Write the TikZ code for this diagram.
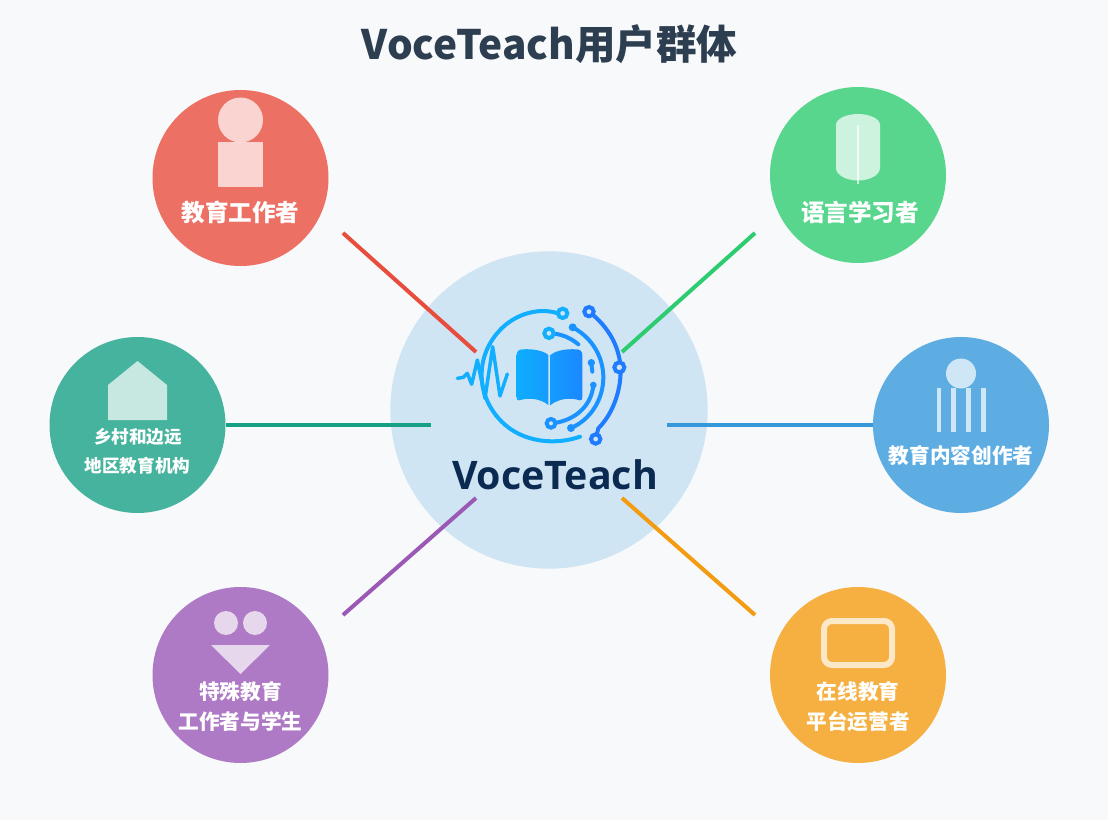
\documentclass[tikz,border=0pt]{standalone}
\usepackage{fontspec}
\setmainfont{Noto Sans CJK SC}
\newfontfamily\logofont{Open Sans}
\usetikzlibrary{calc}
\definecolor{bgc}{HTML}{F8F9FA}
\definecolor{hubc}{HTML}{D0E5F4}
\definecolor{titlec}{HTML}{2C3E50}
\definecolor{logotext}{HTML}{0B2A52}
\definecolor{lg1}{HTML}{12AEFF}
\definecolor{lg2}{HTML}{1A92FF}
\definecolor{lg3}{HTML}{1F7BFF}
\definecolor{pg1}{HTML}{0DAEFF}
\definecolor{pg2}{HTML}{159CFF}
\definecolor{pg3}{HTML}{1A88FF}
\definecolor{dred}{HTML}{EC7063}
\definecolor{dgreen}{HTML}{58D68D}
\definecolor{dteal}{HTML}{45B39D}
\definecolor{dblue}{HTML}{5DADE2}
\definecolor{dpurple}{HTML}{AF7AC5}
\definecolor{dorange}{HTML}{F5B041}
\definecolor{lred}{HTML}{E74C3C}
\definecolor{lgreen}{HTML}{2ECC71}
\definecolor{lteal}{HTML}{16A085}
\definecolor{lblue}{HTML}{3498DB}
\definecolor{lpurple}{HTML}{9B59B6}
\definecolor{lorange}{HTML}{F39C12}
\tikzset{
 x=0.75pt,y=-0.75pt,
 disc/.style={circle,inner sep=0pt,minimum size=132pt,fill=#1},
 link/.style={line width=3pt,draw=#1},
 icon/.style={fill=white,fill opacity=.7,draw=none},
 lab/.style={text=white,font=\bfseries,align=center,inner sep=0pt},
 lgA/.style={draw=lg1,line width=3pt,line cap=round,fill=none},
 lgB/.style={draw=lg2,line width=3pt,line cap=round,fill=none},
 lgC/.style={draw=lg3,line width=3pt,line cap=round,fill=none},
 ring/.style={line width=3pt,fill=hubc},
 pageL/.style={draw=none,left color=pg1,right color=pg2},
 pageR/.style={draw=none,left color=pg2,right color=pg3},
}
\begin{document}
\begin{tikzpicture}
\useasboundingbox (0,0) rectangle (1108,820);
\fill[bgc] (0,0) rectangle (1108,820);
% hub
\node[circle,inner sep=0pt,minimum size=238pt,fill=hubc] (hub) at (549,410) {};
% discs
\node[disc=dred] (red) at (240.5,178) {};
\node[disc=dgreen] (green) at (858,175) {};
\node[disc=dteal] (teal) at (137.5,425) {};
\node[disc=dblue] (blue) at (961,425) {};
\node[disc=dpurple] (purple) at (240.5,675) {};
\node[disc=dorange] (orange) at (858,675) {};
% free ends
\coordinate (r1) at (343,233); \coordinate (r2) at (476,352);
\coordinate (g1) at (755,233); \coordinate (g2) at (622,352);
\coordinate (t1) at (226,425); \coordinate (t2) at (431,425);
\coordinate (b1) at (873,425); \coordinate (b2) at (667,425);
\coordinate (p1) at (343,615); \coordinate (p2) at (476,498);
\coordinate (o1) at (755,615); \coordinate (o2) at (622,498);
\draw[link=lred] (r1) -- (r2);
\draw[link=lgreen] (g1) -- (g2);
\draw[link=lteal] (t1) -- (t2);
\draw[link=lblue] (b1) -- (b2);
\draw[link=lpurple] (p1) -- (p2);
\draw[link=lorange] (o1) -- (o2);
% title
\node[inner sep=0pt,text=titlec,font=\fontsize{30.4pt}{36pt}\bfseries] (title) at (549.5,44) {VoceTeach用户群体};
% icons
\path[icon] (240.5,120) circle[radius=22.5];
\path[icon] (218,142) rectangle (263,187);
\path[icon] (836,125) arc[start angle=180,end angle=360,x radius=22,y radius=11] -- (880,168) arc[start angle=0,end angle=180,x radius=22,y radius=12.5] -- cycle;
\fill[white,opacity=.7] (857.3,125) rectangle (859.3,184);
\path[icon] (137.5,361) -- (167,385) -- (167,420) -- (108,420) -- (108,385) -- cycle;
\path[icon] (961,373.5) circle[radius=15];
\path[icon] (936.5,388) rectangle (941,432);
\path[icon] (951,388) rectangle (955.5,432);
\path[icon] (966,388) rectangle (970.5,432);
\path[icon] (981,388) rectangle (985.5,432);
\path[icon] (226,623) circle[radius=12];
\path[icon] (255,623) circle[radius=12];
\path[icon] (211,645) -- (270,645) -- (240.5,674) -- cycle;
\draw[white,opacity=.7,line width=4.5pt,rounded corners=6pt] (824,621) rectangle (892,665);
% labels
\node[lab,font=\fontsize{17.7pt}{21pt}\bfseries] (lr) at (240.5,212) {教育工作者};
\node[lab,font=\fontsize{17.7pt}{21pt}\bfseries] (lg) at (860,212) {语言学习者};
\node[lab,font=\fontsize{13.2pt}{16pt}\bfseries] (lt1) at (138,437) {乡村和边远};
\node[lab,font=\fontsize{13.2pt}{16pt}\bfseries] (lt2) at (137.5,466) {地区教育机构};
\node[lab,font=\fontsize{15.5pt}{19pt}\bfseries] (lb) at (961,456) {教育内容创作者};
\node[lab,font=\fontsize{15.5pt}{19pt}\bfseries] (lp1) at (240.5,692) {特殊教育};
\node[lab,font=\fontsize{15.5pt}{19pt}\bfseries] (lp2) at (240.5,722) {工作者与学生};
\node[lab,font=\fontsize{15.5pt}{19pt}\bfseries] (lo1) at (858,692) {在线教育};
\node[lab,font=\fontsize{15.5pt}{19pt}\bfseries] (lo2) at (858,722) {平台运营者};
% logo (drawn in the zoomed frame)
\begin{scope}[shift={(430,290)},x=0.25pt,y=-0.25pt]
\draw[lgA] (383,70) .. controls (340,55) and (270,62) .. (215,115) .. controls (130,200) and (140,320) .. (215,395) .. controls (280,460) and (380,465) .. (450,440);
\draw[lgB] (428,112) .. controls (490,145) and (520,205) .. (520,262) .. controls (520,330) and (480,390) .. (423,414);
\draw[lgC] (477,65) .. controls (535,110) and (570,170) .. (572,240) .. controls (572,310) and (545,375) .. (505,415) -- (497,447);
\draw[lgB] (357,130) .. controls (390,130) and (420,142) .. (445,163);
\draw[lgB] (363,400) .. controls (430,395) and (485,350) .. (490,285);
\draw[lgB] (484,218) -- (487,245);
\fill[lg2] (428,112) circle[radius=12];
\fill[lg2] (423,414) circle[radius=12];
\fill[lg2] (484,218) circle[radius=11];
\fill[lg2] (490,285) circle[radius=10];
\draw[ring,draw=lg1] (398,70) circle[radius=14];
\draw[ring,draw=lg1] (357,130) circle[radius=14];
\draw[ring,draw=lg2] (363,400) circle[radius=13];
\draw[ring,draw=lg3] (477,65) circle[radius=14];
\draw[ring,draw=lg3] (568,232) circle[radius=15];
\draw[ring,draw=lg3] (497,447) circle[radius=14];
\draw[lg1,line width=2.6pt,line cap=round,line join=round] (82,265) -- (100,262) -- (112,250) -- (125,283) -- (142,210) -- (165,325) -- (188,170) -- (210,318) -- (232,252);
\path[pageL] (260,195) .. controls (260,183) and (268,178) .. (278,178) .. controls (310,176) and (340,182) .. (355,195) -- (355,345) .. controls (330,325) and (295,322) .. (268,331) .. controls (262,332) and (260,328) .. (260,322) -- cycle;
\path[pageR] (457,195) .. controls (457,183) and (449,178) .. (439,178) .. controls (407,176) and (377,182) .. (362,195) -- (362,345) .. controls (387,325) and (422,322) .. (449,331) .. controls (455,332) and (457,328) .. (457,322) -- cycle;
\end{scope}
\node[inner sep=0pt,text=logotext,font=\logofont\fontsize{29.5pt}{36pt}\selectfont\bfseries] (logo) at (555,475) {VoceTeach};
\end{tikzpicture}
\end{document}
